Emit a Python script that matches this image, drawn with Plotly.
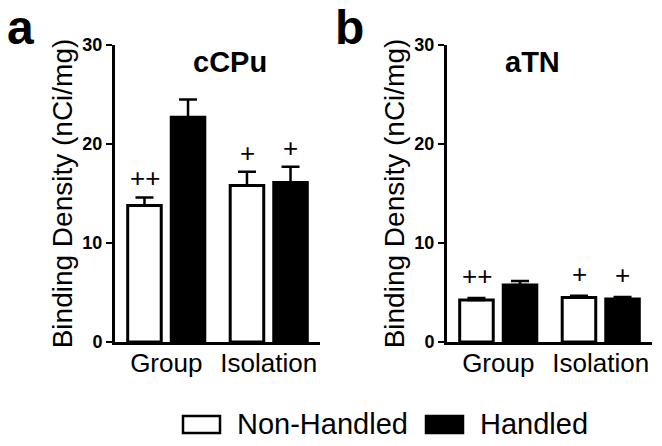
import plotly.graph_objects as go
from plotly.subplots import make_subplots

# ---- data ----
groups = ["Group", "Isolation"]
series_names = ["Non-Handled", "Handled"]

ccpu_nonhandled = [13.8, 15.8]
ccpu_nonhandled_sem = [0.8, 1.4]
ccpu_handled = [22.7, 16.1]
ccpu_handled_sem = [1.8, 1.6]

atn_nonhandled = [4.25, 4.5]
atn_nonhandled_sem = [0.2, 0.18]
atn_handled = [5.75, 4.35]
atn_handled_sem = [0.4, 0.2]

nonhandled_sig = ["++", "+"]
handled_sig = ["", "+"]

panel_titles = ["cCPu", "aTN"]
panel_letters = ["a", "b"]
y_ticks = [0, 10, 20, 30]
y_title = "Binding Density (nCi/mg)"

FONT = "Liberation Sans, Arial, sans-serif"
W, H = 662, 446

fig = make_subplots(rows=1, cols=2)

panels = [
    (ccpu_nonhandled, ccpu_nonhandled_sem, ccpu_handled, ccpu_handled_sem),
    (atn_nonhandled, atn_nonhandled_sem, atn_handled, atn_handled_sem),
]

for i, (nh, nh_sem, hd, hd_sem) in enumerate(panels):
    col = i + 1
    fig.add_trace(go.Bar(
        x=groups, y=nh, name=series_names[0], offsetgroup="nh",
        marker=dict(color="white", line=dict(color="black", width=3)),
        error_y=dict(type="data", symmetric=False, array=nh_sem,
                     arrayminus=[0] * len(nh_sem), color="black",
                     thickness=2.5, width=9),
        showlegend=False), row=1, col=col)
    fig.add_trace(go.Bar(
        x=groups, y=hd, name=series_names[1], offsetgroup="hd",
        marker=dict(color="black", line=dict(color="black", width=3)),
        error_y=dict(type="data", symmetric=False, array=hd_sem,
                     arrayminus=[0] * len(hd_sem), color="black",
                     thickness=2.5, width=9),
        showlegend=False), row=1, col=col)

    xref = "x" if col == 1 else "x2"
    yref = "y" if col == 1 else "y2"
    for g, v, s, sig in zip(groups, nh, nh_sem, nonhandled_sig):
        if sig:
            fig.add_annotation(x=g, y=v + s, xref=xref, yref=yref, text=sig,
                               showarrow=False, xshift=-21.5, yanchor="bottom",
                               yshift=2 if col == 1 else 5,
                               font=dict(family=FONT, size=26, color="black"))
    for g, v, s, sig in zip(groups, hd, hd_sem, handled_sig):
        if sig:
            fig.add_annotation(x=g, y=v + s, xref=xref, yref=yref, text=sig,
                               showarrow=False, xshift=21.5, yanchor="bottom",
                               yshift=2 if col == 1 else 5,
                               font=dict(family=FONT, size=26, color="black"))

x_domains = [[115 / W, 320 / W], [447 / W, 652 / W]]
y_domain = [1 - 342 / H, 1 - 45 / H]

for i in range(2):
    col = i + 1
    fig.update_xaxes(domain=x_domains[i], showline=True, linewidth=3,
                     linecolor="black", ticks="", showgrid=False,
                     ticklabelstandoff=-4,
                     tickfont=dict(family=FONT, size=26, color="black"),
                     range=[-0.5, 1.5], row=1, col=col)
    fig.update_yaxes(domain=y_domain, range=[0, 30], tickvals=y_ticks,
                     showline=True, linewidth=3, linecolor="black",
                     ticks="outside", ticklen=6, tickwidth=2, tickcolor="black",
                     showgrid=False, zeroline=False,
                     tickfont=dict(family=FONT, size=18, color="black",
                                   weight="bold"),
                     title=dict(text=y_title, standoff=2,
                                font=dict(family=FONT, size=28, color="black")),
                     row=1, col=col)

# panel titles
title_centers = [230, 562]
for i, t in enumerate(panel_titles):
    fig.add_annotation(x=title_centers[i] / W, y=1 - 62 / H, xref="paper",
                       yref="paper", text=t, showarrow=False,
                       yanchor="middle",
                       font=dict(family=FONT, size=29, color="black",
                                 weight="bold"))

# panel letters
for i, t in enumerate(panel_letters):
    fig.add_annotation(x=(5 if i == 0 else 333) / W, y=1 - 28 / H,
                       xref="paper", yref="paper", text=t, showarrow=False,
                       xanchor="left", yanchor="middle",
                       font=dict(family=FONT, size=48, color="black",
                                 weight="bold"))

# legend (manual)
legend_items = [(series_names[0], "white", 183, 235),
                (series_names[1], "black", 426, 478)]
for name, fill, bx, tx in legend_items:
    fig.add_shape(type="rect", xref="paper", yref="paper",
                  x0=bx / W, x1=(bx + 37) / W, y0=1 - 433 / H, y1=1 - 416 / H,
                  fillcolor=fill, line=dict(color="black", width=2.5))
    fig.add_annotation(x=tx / W, y=1 - 424 / H, xref="paper", yref="paper",
                       text=name, showarrow=False, xanchor="left",
                       yanchor="middle",
                       font=dict(family=FONT, size=29, color="black"))

fig.update_layout(
    width=W, height=H,
    margin=dict(l=0, r=0, t=0, b=0, autoexpand=False),
    paper_bgcolor="white", plot_bgcolor="white",
    barmode="group", bargap=0.15, bargroupgap=0.23,
    font=dict(family=FONT, color="black"),
)

fig.write_html("out.html",
               config={"displayModeBar": False},
               post_script="document.body.style.margin='0';"
                           "document.body.style.overflow='hidden';")
